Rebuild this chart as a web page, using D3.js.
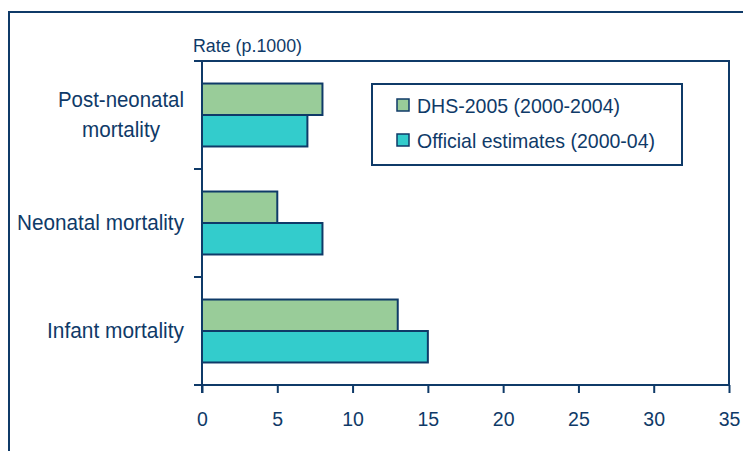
<!DOCTYPE html>
<html>
<head>
<meta charset="utf-8">
<script src="https://cdn.jsdelivr.net/npm/d3@7"></script>
<style>
  html, body { margin: 0; padding: 0; background: #fff; }
  svg { display: block; font-family: "Liberation Sans", Arial, sans-serif; }
</style>
</head>
<body>
<svg id="chart" width="743" height="451"></svg>
<script>
// Mortality rates per 1000, two sources
const categories = ["Post-neonatal mortality", "Neonatal mortality", "Infant mortality"];
const categoryLines = [["Post-neonatal", "mortality"], ["Neonatal mortality"], ["Infant mortality"]];
const seriesNames = ["DHS-2005 (2000-2004)", "Official estimates (2000-04)"];
const dhsValues = [8, 5, 13];
const officialValues = [7, 8, 15];
const xTicks = [0, 5, 10, 15, 20, 25, 30, 35];
const axisTitle = "Rate (p.1000)";

const ink = "#0f3a68";
const colors = ["#99cc99", "#33cccc"];
const seriesValues = [dhsValues, officialValues];

const svg = d3.select("#chart");
const m = { left: 202, right: 729, top: 61, bottom: 385 };

// slightly condensed text: wide glyphs squeezed to a set width
function condensed(sel, size, width) {
  sel.attr("font-size", size);
  const w = sel.node().getComputedTextLength();
  sel.attr("textLength", Math.min(w, width)).attr("lengthAdjust", "spacingAndGlyphs");
  return sel;
}

// outer frame (left and top edges)
svg.append("path")
  .attr("d", `M9,451 V12 H743`)
  .attr("fill", "none").attr("stroke", ink).attr("stroke-width", 2);

// plot area border
svg.append("path")
  .attr("d", `M${m.left},${m.top} H${m.right} V${m.bottom}`)
  .attr("fill", "none").attr("stroke", ink).attr("stroke-width", 2);

const x = d3.scaleLinear().domain([0, 35]).range([m.left, m.right]);
const y = d3.scaleBand().domain(categories).range([m.top, m.bottom]).paddingInner(0.417).paddingOuter(0.2085);
const ySub = d3.scaleBand().domain(seriesNames).range([0, y.bandwidth()]);

// bars
seriesNames.forEach((s, si) => {
  svg.append("g").selectAll("rect")
    .data(categories)
    .join("rect")
    .attr("x", x(0))
    .attr("y", c => y(c) + ySub(s))
    .attr("width", (c, i) => x(seriesValues[si][i]) - x(0))
    .attr("height", ySub.bandwidth())
    .attr("fill", colors[si])
    .attr("stroke", ink)
    .attr("stroke-width", 2);
});

// x axis
const xAxis = svg.append("g")
  .attr("transform", `translate(0,${m.bottom})`)
  .call(d3.axisBottom(x).tickValues(xTicks).tickSize(8).tickSizeOuter(0).tickPadding(19));
xAxis.select(".domain").attr("d", `M${m.left - 8},0H${m.right}`).attr("stroke", ink).attr("stroke-width", 2);
xAxis.selectAll(".tick line").attr("stroke", ink).attr("stroke-width", 2);
xAxis.selectAll(".tick text").attr("fill", ink).attr("font-size", 19.5).attr("font-family", "Liberation Sans, Arial, sans-serif");

// y axis line with category separators
const yAxis = svg.append("g");
yAxis.append("line")
  .attr("x1", m.left).attr("x2", m.left).attr("y1", m.top).attr("y2", m.bottom + 8)
  .attr("stroke", ink).attr("stroke-width", 2);
const step = y.step();
const sepYs = d3.range(categories.length).map(i => y(categories[i]) - y.paddingInner() * step / 2);
yAxis.selectAll("line.sep")
  .data(sepYs)
  .join("line")
  .attr("class", "sep")
  .attr("x1", m.left - 8).attr("x2", m.left)
  .attr("y1", d => d).attr("y2", d => d)
  .attr("stroke", ink).attr("stroke-width", 2);

// category labels: block right-aligned near the axis, lines centred within it
const labelWidths = { "Post-neonatal": 126, "mortality": 78, "Neonatal mortality": 167, "Infant mortality": 137 };
categories.forEach((c, i) => {
  const lines = categoryLines[i];
  const cy = y(c) + y.bandwidth() / 2;
  const lh = 29.5;
  const blockW = d3.max(lines, ln => labelWidths[ln]);
  const cx = 184 - blockW / 2;
  lines.forEach((ln, j) => {
    const t = svg.append("text")
      .attr("fill", ink)
      .attr("text-anchor", "middle")
      .attr("x", cx)
      .attr("y", cy + 7 + (j - (lines.length - 1) / 2) * lh)
      .text(ln);
    condensed(t, 22, labelWidths[ln]);
  });
});

// axis title
condensed(svg.append("text")
  .attr("x", 193).attr("y", 52)
  .attr("fill", ink)
  .text(axisTitle), 18.5, 109);

// legend
const legendWidths = [203, 238];
const lg = svg.append("g");
lg.append("rect")
  .attr("x", 372).attr("y", 84).attr("width", 310).attr("height", 81)
  .attr("fill", "#fff").attr("stroke", ink).attr("stroke-width", 2);
seriesNames.forEach((s, i) => {
  const yy = 99 + i * 35;
  lg.append("rect")
    .attr("x", 397).attr("y", yy).attr("width", 12).attr("height", 12)
    .attr("fill", colors[i]).attr("stroke", ink).attr("stroke-width", 1.5);
  condensed(lg.append("text")
    .attr("x", 417).attr("y", yy + 14)
    .attr("fill", ink)
    .text(s), 21, legendWidths[i]);
});
</script>
</body>
</html>
